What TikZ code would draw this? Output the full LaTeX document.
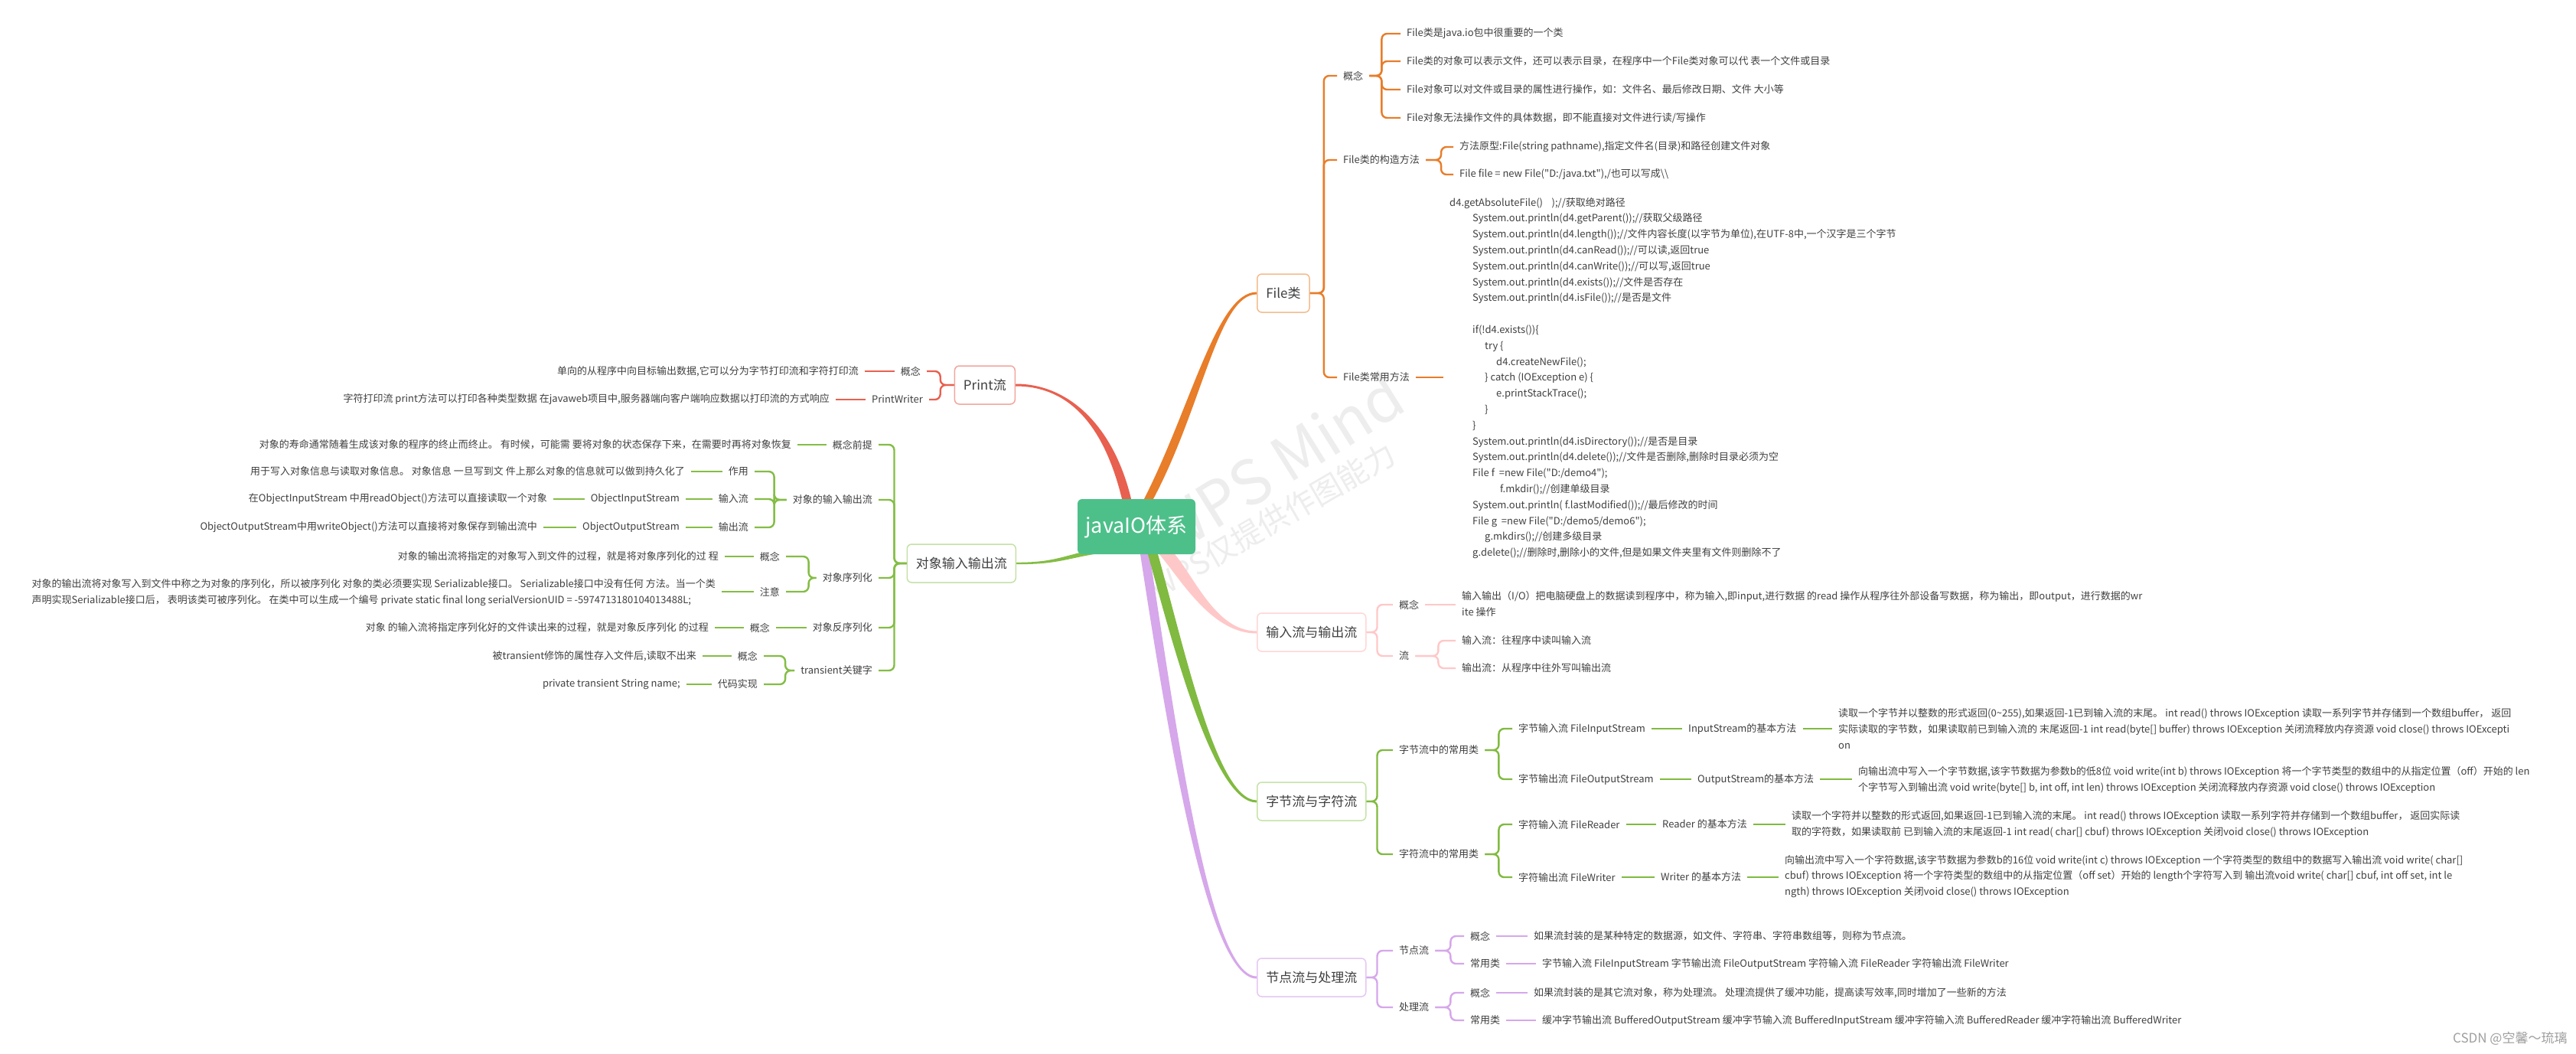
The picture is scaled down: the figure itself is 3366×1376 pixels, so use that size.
\documentclass[tikz,border=0pt]{standalone}
\usepackage{fontspec}
\setmainfont{Noto Sans CJK SC}[Ligatures=TeXOff]
\usetikzlibrary{calc,backgrounds}

\definecolor{rootgreen}{HTML}{4DC08A}
\definecolor{txt}{HTML}{404040}
\definecolor{wmgray}{HTML}{EDEDED}
\definecolor{fileline}{HTML}{E87D2A}
\definecolor{fileedge}{HTML}{F4BC8E}
\definecolor{printline}{HTML}{E8604F}
\definecolor{printedge}{HTML}{F2A69E}
\definecolor{objline}{HTML}{84BD45}
\definecolor{objedge}{HTML}{C4E1A7}
\definecolor{ioline}{HTML}{FFC8C8}
\definecolor{ioedge}{HTML}{FFD7D7}
\definecolor{byteline}{HTML}{80BA40}
\definecolor{byteedge}{HTML}{C6E3A8}
\definecolor{nodeline}{HTML}{D6A7EA}
\definecolor{nodeedge}{HTML}{E5C7F2}

\tikzset{
  root/.style={rounded corners=6pt, fill=rootgreen, text=white, font=\fontsize{27}{30}\selectfont,
    minimum width=154pt, minimum height=72pt, inner sep=0pt},
  topic/.style={rounded corners=6pt, draw=#1, line width=1.5pt, fill=white, text=txt,
    font=\fontsize{17}{20}\selectfont, minimum height=50pt, inner xsep=11.5pt},
  leaf/.style={text=txt, font=\fontsize{13}{20.8}\selectfont, inner xsep=8pt, inner ysep=2pt, align=left},
  link/.style={draw=#1, line width=2.4pt, rounded corners=7pt},
}

\begin{document}
\begin{tikzpicture}[x=1pt,y=-1pt]
\useasboundingbox (0,0) rectangle (3366,1376);

% centre and main topics
\node[root] (root) at (1485,688) {javaIO体系};
\node[topic=fileedge,anchor=west] (file) at (1642,383) {File类};
\node[topic=printedge,anchor=east] (print) at (1327,503) {Print流};
\node[topic=objedge,anchor=east] (obj) at (1328,736) {对象输入输出流};
\node[topic=ioedge,anchor=west] (io) at (1642,826) {输入流与输出流};
\node[topic=byteedge,anchor=west] (bytechar) at (1642,1047) {字节流与字符流};
\node[topic=nodeedge,anchor=west] (nodeproc) at (1642,1277) {节点流与处理流};

% File类
\node[leaf,anchor=west] (fcon) at (1747,99) {概念};
\node[leaf,anchor=west] (fc1) at (1830,44) {File类是java.io包中很重要的一个类};
\node[leaf,anchor=west] (fc2) at (1830,80) {File类的对象可以表示文件，还可以表示目录，在程序中一个File类对象可以代 表一个文件或目录};
\node[leaf,anchor=west] (fc3) at (1830,117) {File对象可以对文件或目录的属性进行操作，如：文件名、最后修改日期、文件 大小等};
\node[leaf,anchor=west] (fc4) at (1830,154) {File对象无法操作文件的具体数据，即不能直接对文件进行读/写操作};
\node[leaf,anchor=west] (fctor) at (1747,209) {File类的构造方法};
\node[leaf,anchor=west] (fct1) at (1899,192) {方法原型:File(string pathname),指定文件名(目录)和路径创建文件对象};
\node[leaf,anchor=west] (fct2) at (1899,228) {File file = new File("D:/java.txt"),/也可以写成\textbackslash\textbackslash};
\node[leaf,anchor=west] (fmeth) at (1747,493) {File类常用方法};
\node[leaf,anchor=west] (fcode) at (1886,494) {d4.getAbsoluteFile()\ \ \ \ );//获取绝对路径\\
\hspace*{30pt}System.out.println(d4.getParent());//获取父级路径\\
\hspace*{30pt}System.out.println(d4.length());//文件内容长度(以字节为单位),在UTF-8中,一个汉字是三个字节\\
\hspace*{30pt}System.out.println(d4.canRead());//可以读,返回true\\
\hspace*{30pt}System.out.println(d4.canWrite());//可以写,返回true\\
\hspace*{30pt}System.out.println(d4.exists());//文件是否存在\\
\hspace*{30pt}System.out.println(d4.isFile());//是否是文件\\[20.8pt]
\hspace*{30pt}if(!d4.exists())\{\\
\hspace*{46pt}try \{\\
\hspace*{61pt}d4.createNewFile();\\
\hspace*{46pt}\} catch (IOException e) \{\\
\hspace*{61pt}e.printStackTrace();\\
\hspace*{46pt}\}\\
\hspace*{30pt}\}\\
\hspace*{30pt}System.out.println(d4.isDirectory());//是否是目录\\
\hspace*{30pt}System.out.println(d4.delete());//文件是否删除,删除时目录必须为空\\
\hspace*{30pt}File f\ \ =new File("D:/demo4");\\
\hspace*{66pt}f.mkdir();//创建单级目录\\
\hspace*{30pt}System.out.println( f.lastModified());//最后修改的时间\\
\hspace*{30pt}File g\ \ =new File("D:/demo5/demo6");\\
\hspace*{46pt}g.mkdirs();//创建多级目录\\
\hspace*{30pt}g.delete();//删除时,删除小的文件,但是如果文件夹里有文件则删除不了};

\foreach \k in {fcon,fctor,fmeth} \draw[link=fileline] (file.east) -- ++(18,0) |- (\k.west);
\foreach \k in {fc1,fc2,fc3,fc4} \draw[link=fileline] (fcon.east) -- ++(16,0) |- (\k.west);
\foreach \k in {fct1,fct2} \draw[link=fileline] (fctor.east) -- ++(20,0) |- (\k.west);
\draw[link=fileline] (fmeth.east) -- (fmeth.east -| fcode.west);

% Print流
\node[leaf,anchor=east] (pcon) at (1211,485) {概念};
\node[leaf,anchor=east] (pcont) at (1130,485) {单向的从程序中向目标输出数据,它可以分为字节打印流和字符打印流};
\node[leaf,anchor=east] (pwri) at (1214,522) {PrintWriter};
\node[leaf,anchor=east] (pwrit) at (1092,522) {字符打印流 print方法可以打印各种类型数据 在javaweb项目中,服务器端向客户端响应数据以打印流的方式响应};

\foreach \k in {pcon,pwri} \draw[link=printline] (print.west) -- ++(-18,0) |- (\k.east);
\draw[link=printline] (pcon.west) -- (pcon.west -| pcont.east);
\draw[link=printline] (pwri.west) -- (pwri.west -| pwrit.east);

% 对象输入输出流
\node[leaf,anchor=east] (oprem) at (1148,581) {概念前提};
\node[leaf,anchor=east] (opremt) at (1042,581) {对象的寿命通常随着生成该对象的程序的终止而终止。 有时候，可能需 要将对象的状态保存下来，在需要时再将对象恢复};
\node[leaf,anchor=east] (oio) at (1148,653) {对象的输入输出流};
\node[leaf,anchor=east] (ouse) at (986,616) {作用};
\node[leaf,anchor=east] (ouset) at (903,616) {用于写入对象信息与读取对象信息。 对象信息 一旦写到文 件上那么对象的信息就可以做到持久化了};
\node[leaf,anchor=east] (oin) at (986,652) {输入流};
\node[leaf,anchor=east] (ois) at (896,652) {ObjectInputStream};
\node[leaf,anchor=east] (oist) at (723,652) {在ObjectInputStream 中用readObject()方法可以直接读取一个对象};
\node[leaf,anchor=east] (oout) at (986,689) {输出流};
\node[leaf,anchor=east] (oos) at (896,689) {ObjectOutputStream};
\node[leaf,anchor=east] (oost) at (710,689) {ObjectOutputStream中用writeObject()方法可以直接将对象保存到输出流中};
\node[leaf,anchor=east] (oser) at (1148,755) {对象序列化};
\node[leaf,anchor=east] (osc) at (1027,727) {概念};
\node[leaf,anchor=east] (osct) at (947,727) {对象的输出流将指定的对象写入到文件的过程，就是将对象序列化的过 程};
\node[leaf,anchor=east] (osn) at (1027,773) {注意};
\node[leaf,anchor=east] (osnt) at (943,774) {对象的输出流将对象写入到文件中称之为对象的序列化，所以被序列化 对象的类必须要实现 Serializable接口。 Serializable接口中没有任何 方法。当一个类\\
声明实现Serializable接口后， 表明该类可被序列化。 在类中可以生成一个编号 private static final long serialVersionUID = -5974713180104013488L;};
\node[leaf,anchor=east] (odes) at (1148,820) {对象反序列化};
\node[leaf,anchor=east] (odc) at (1014,820) {概念};
\node[leaf,anchor=east] (odct) at (934,820) {对象 的输入流将指定序列化好的文件读出来的过程，就是对象反序列化 的过程};
\node[leaf,anchor=east] (otr) at (1148,876) {transient关键字};
\node[leaf,anchor=east] (otc) at (998,857) {概念};
\node[leaf,anchor=east] (otct) at (918,857) {被transient修饰的属性存入文件后,读取不出来};
\node[leaf,anchor=east] (otk) at (998,894) {代码实现};
\node[leaf,anchor=east] (otkt) at (897,894) {private transient String name;};

\foreach \k in {oprem,oio,oser,odes,otr} \draw[link=objline] (obj.west) -- ++(-16,0) |- (\k.east);
\draw[link=objline] (oprem.west) -- (oprem.west -| opremt.east);
\foreach \k in {ouse,oin,oout} \draw[link=objline] (oio.west) -- ++(-16,0) |- (\k.east);
\draw[link=objline] (ouse.west) -- (ouse.west -| ouset.east);
\draw[link=objline] (oin.west) -- (oin.west -| ois.east);
\draw[link=objline] (ois.west) -- (ois.west -| oist.east);
\draw[link=objline] (oout.west) -- (oout.west -| oos.east);
\draw[link=objline] (oos.west) -- (oos.west -| oost.east);
\foreach \k in {osc,osn} \draw[link=objline] (oser.west) -- ++(-10,0) |- (\k.east);
\draw[link=objline] (osc.west) -- (osc.west -| osct.east);
\draw[link=objline] (osn.west) -- (osn.west -| osnt.east);
\draw[link=objline] (odes.west) -- (odes.west -| odc.east);
\draw[link=objline] (odc.west) -- (odc.west -| odct.east);
\foreach \k in {otc,otk} \draw[link=objline] (otr.west) -- ++(-12,0) |- (\k.east);
\draw[link=objline] (otc.west) -- (otc.west -| otct.east);
\draw[link=objline] (otk.west) -- (otk.west -| otkt.east);

% 输入流与输出流
\node[leaf,anchor=west] (ioc) at (1820,790) {概念};
\node[leaf,anchor=west] (ioct) at (1902,789) {输入输出（I/O）把电脑硬盘上的数据读到程序中，称为输入,即input,进行数据 的read 操作从程序往外部设备写数据，称为输出，即output，进行数据的wr\\
ite 操作};
\node[leaf,anchor=west] (ios) at (1820,857) {流};
\node[leaf,anchor=west] (ios1) at (1902,837) {输入流：往程序中读叫输入流};
\node[leaf,anchor=west] (ios2) at (1902,873) {输出流：从程序中往外写叫输出流};

\foreach \k in {ioc,ios} \draw[link=ioline] (io.east) -- ++(14,0) |- (\k.west);
\draw[link=ioline] (ioc.east) -- (ioc.east -| ioct.west);
\foreach \k in {ios1,ios2} \draw[link=ioline] (ios.east) -- ++(30,0) |- (\k.west);

% 字节流与字符流
\node[leaf,anchor=west] (bb) at (1820,980) {字节流中的常用类};
\node[leaf,anchor=west] (bfis) at (1976,952) {字节输入流 FileInputStream};
\node[leaf,anchor=west] (bism) at (2198,952) {InputStream的基本方法};
\node[leaf,anchor=west] (bist) at (2394,952) {读取一个字节并以整数的形式返回(0\textasciitilde255),如果返回-1已到输入流的末尾。 int read() throws IOException 读取一系列字节并存储到一个数组buffer， 返回\\
实际读取的字节数，如果读取前已到输入流的 末尾返回-1 int read(byte[] buffer) throws IOException 关闭流释放内存资源 void close() throws IOExcepti\\
on};
\node[leaf,anchor=west] (bfos) at (1976,1018) {字节输出流 FileOutputStream};
\node[leaf,anchor=west] (bosm) at (2210,1018) {OutputStream的基本方法};
\node[leaf,anchor=west] (bost) at (2420,1019) {向输出流中写入一个字节数据,该字节数据为参数b的低8位 void write(int b) throws IOException 将一个字节类型的数组中的从指定位置（off）开始的 len\\
个字节写入到输出流 void write(byte[] b, int off, int len) throws IOException 关闭流释放内存资源 void close() throws IOException};
\node[leaf,anchor=west] (bc) at (1820,1116) {字符流中的常用类};
\node[leaf,anchor=west] (bfr) at (1976,1077) {字符输入流 FileReader};
\node[leaf,anchor=west] (brm) at (2164,1077) {Reader 的基本方法};
\node[leaf,anchor=west] (brt) at (2333,1077) {读取一个字符并以整数的形式返回,如果返回-1已到输入流的末尾。 int read() throws IOException 读取一系列字符并存储到一个数组buffer， 返回实际读\\
取的字符数，如果读取前 已到输入流的末尾返回-1 int read( char[] cbuf) throws IOException 关闭void close() throws IOException};
\node[leaf,anchor=west] (bfw) at (1976,1146) {字符输出流 FileWriter};
\node[leaf,anchor=west] (bwm) at (2162,1146) {Writer 的基本方法};
\node[leaf,anchor=west] (bwt) at (2324,1145) {向输出流中写入一个字符数据,该字节数据为参数b的16位 void write(int c) throws IOException 一个字符类型的数组中的数据写入输出流 void write( char[]\\
 cbuf) throws IOException 将一个字符类型的数组中的从指定位置（off set）开始的 length个字符写入到 输出流void write( char[] cbuf, int off set, int le\\
ngth) throws IOException 关闭void close() throws IOException};

\foreach \k in {bb,bc} \draw[link=byteline] (bytechar.east) -- ++(14,0) |- (\k.west);
\foreach \k in {bfis,bfos} \draw[link=byteline] (bb.east) -- ++(18,0) |- (\k.west);
\foreach \k in {bfr,bfw} \draw[link=byteline] (bc.east) -- ++(18,0) |- (\k.west);
\draw[link=byteline] (bfis.east) -- (bfis.east -| bism.west);
\draw[link=byteline] (bism.east) -- (bism.east -| bist.west);
\draw[link=byteline] (bfos.east) -- (bfos.east -| bosm.west);
\draw[link=byteline] (bosm.east) -- (bosm.east -| bost.west);
\draw[link=byteline] (bfr.east) -- (bfr.east -| brm.west);
\draw[link=byteline] (brm.east) -- (brm.east -| brt.west);
\draw[link=byteline] (bfw.east) -- (bfw.east -| bwm.west);
\draw[link=byteline] (bwm.east) -- (bwm.east -| bwt.west);

% 节点流与处理流
\node[leaf,anchor=west] (nn) at (1820,1242) {节点流};
\node[leaf,anchor=west] (nnc) at (1913,1223) {概念};
\node[leaf,anchor=west] (nnct) at (1996,1223) {如果流封装的是某种特定的数据源，如文件、字符串、字符串数组等，则称为节点流。};
\node[leaf,anchor=west] (nnu) at (1913,1259) {常用类};
\node[leaf,anchor=west] (nnut) at (2007,1259) {字节输入流 FileInputStream 字节输出流 FileOutputStream 字符输入流 FileReader 字符输出流 FileWriter};
\node[leaf,anchor=west] (np) at (1820,1316) {处理流};
\node[leaf,anchor=west] (npc) at (1913,1297) {概念};
\node[leaf,anchor=west] (npct) at (1996,1297) {如果流封装的是其它流对象，称为处理流。 处理流提供了缓冲功能，提高读写效率,同时增加了一些新的方法};
\node[leaf,anchor=west] (npu) at (1913,1333) {常用类};
\node[leaf,anchor=west] (nput) at (2007,1333) {缓冲字节输出流 BufferedOutputStream 缓冲字节输入流 BufferedInputStream 缓冲字符输入流 BufferedReader 缓冲字符输出流 BufferedWriter};

\foreach \k in {nn,np} \draw[link=nodeline] (nodeproc.east) -- ++(14,0) |- (\k.west);
\foreach \k in {nnc,nnu} \draw[link=nodeline] (nn.east) -- ++(20,0) |- (\k.west);
\foreach \k in {npc,npu} \draw[link=nodeline] (np.east) -- ++(20,0) |- (\k.west);
\draw[link=nodeline] (nnc.east) -- (nnc.east -| nnct.west);
\draw[link=nodeline] (nnu.east) -- (nnu.east -| nnut.west);
\draw[link=nodeline] (npc.east) -- (npc.east -| npct.west);
\draw[link=nodeline] (npu.east) -- (npu.east -| nput.west);

\node[text=gray!75, font=\fontsize{17}{17}\selectfont, anchor=east] (csdn) at (3358,1357) {CSDN @空馨～琉璃};

% watermark and main branches
\begin{scope}[on background layer]
  \fill[white] (0,0) rectangle (3366,1376);
  \node[rotate=32, text=wmgray, font=\fontsize{80}{80}\selectfont] (wm1) at (1668,606) {WPS Mind};
  \node[rotate=30, text=wmgray, font=\fontsize{40}{40}\selectfont] (wm2) at (1662,680) {WPS仅提供作图能力};

  \fill[nodeline] ($(root.south)+(17,0)$) .. controls +(35,224) and +(-62,0) .. ($(nodeproc.west)+(0,-1.5)$)
    -- ($(nodeproc.west)+(0,1.5)$) .. controls +(-65,0) and +(35,228) .. ($(root.south)+(5,0)$) -- cycle;
  \fill[byteline] ($(root.south)+(28,0)$) .. controls +(35,124) and +(-52,0) .. ($(bytechar.west)+(0,-1.5)$)
    -- ($(bytechar.west)+(0,1.5)$) .. controls +(-55,0) and +(35,128) .. ($(root.south)+(15,0)$) -- cycle;
  \fill[ioline] ($(root.south)+(45,-6)$) .. controls +(30,32) and +(-55,0) .. ($(io.west)+(0,-1.5)$)
    -- ($(io.west)+(0,1.5)$) .. controls +(-58,0) and +(30,36) .. ($(root.south)+(30,0)$) -- cycle;
  \fill[printline] ($(root.north)+(-7,0)$) .. controls +(-22,-92) and +(72,0) .. ($(print.east)+(0,-1.5)$)
    -- ($(print.east)+(0,1.5)$) .. controls +(74,0) and +(-22,-90) .. ($(root.north)+(-19,0)$) -- cycle;
  \fill[fileline] ($(root.north)+(10,0)$) .. controls +(62,-122) and +(-52,0) .. ($(file.west)+(0,-1.5)$)
    -- ($(file.west)+(0,1.5)$) .. controls +(-50,0) and +(64,-120) .. ($(root.north)+(22,0)$) -- cycle;
  \fill[objline] ($(root.south)+(-45,-8)$) .. controls +(-50,8) and +(55,0) .. ($(obj.east)+(0,-1.2)$)
    -- ($(obj.east)+(0,1.2)$) .. controls +(55,0) and +(-50,8) .. ($(root.south)+(-45,-2)$) -- cycle;
\end{scope}
\end{tikzpicture}
\end{document}
